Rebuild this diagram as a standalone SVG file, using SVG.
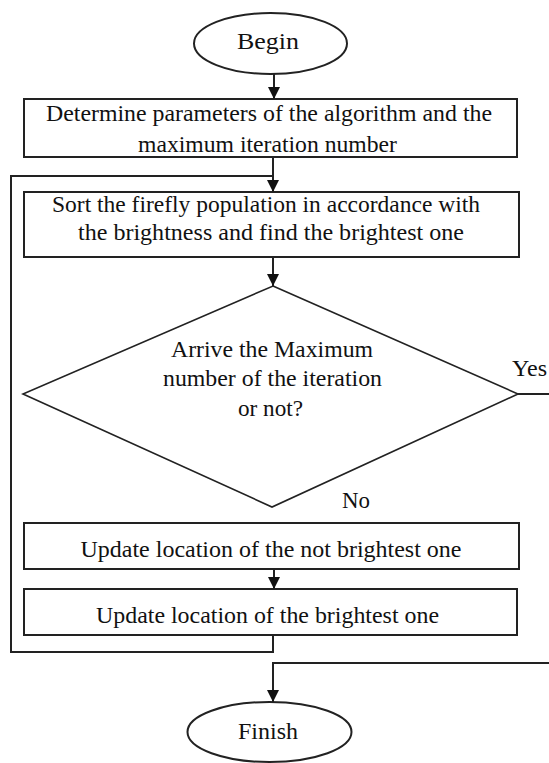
<svg xmlns="http://www.w3.org/2000/svg" width="549" height="763" viewBox="0 0 549 763">
<style>
.shape{fill:#fff;stroke:#222;stroke-width:2}
.dia{fill:#fff;stroke:#222;stroke-width:1.6}
.conn{fill:none;stroke:#222;stroke-width:2}
text{font-family:"Liberation Serif","Times New Roman",serif;font-size:24px;fill:#111;text-anchor:middle}
</style>
<defs>
<marker id="arr" viewBox="0 0 12 12" refX="12" refY="6" markerWidth="12" markerHeight="12" markerUnits="userSpaceOnUse" orient="auto">
<path d="M0,0 L12,6 L0,12 Z" fill="#111"/>
</marker>
</defs>
<rect width="549" height="763" fill="#fff"/>
<g id="begin">
<ellipse class="shape" cx="270.5" cy="43.5" rx="76.5" ry="30.5"/>
<text x="268" y="49" textLength="62" lengthAdjust="spacingAndGlyphs">Begin</text>
</g>
<g id="determine">
<rect class="shape" x="24" y="99" width="493" height="58"/>
<text x="269" y="121" textLength="446" lengthAdjust="spacingAndGlyphs">Determine parameters of the algorithm and the</text>
<text x="267.5" y="152" textLength="259" lengthAdjust="spacingAndGlyphs">maximum iteration number</text>
</g>
<g id="sort">
<rect class="shape" x="24" y="192" width="495" height="65"/>
<text x="266" y="212" textLength="428" lengthAdjust="spacingAndGlyphs">Sort the firefly population in accordance with</text>
<text x="271" y="240" textLength="386" lengthAdjust="spacingAndGlyphs">the brightness and find the brightest one</text>
</g>
<g id="decision">
<polygon class="dia" points="273,286 518,394 272,507 23,394"/>
<text x="272" y="357" textLength="202" lengthAdjust="spacingAndGlyphs">Arrive the Maximum</text>
<text x="272.5" y="386" textLength="219" lengthAdjust="spacingAndGlyphs">number of the iteration</text>
<text x="270.5" y="416" textLength="65" lengthAdjust="spacingAndGlyphs">or not?</text>
</g>
<g id="update-not-brightest">
<rect class="shape" x="24" y="523" width="495" height="46"/>
<text x="271" y="557" textLength="381" lengthAdjust="spacingAndGlyphs">Update location of the not brightest one</text>
</g>
<g id="update-brightest">
<rect class="shape" x="24" y="589" width="493" height="46"/>
<text x="267.5" y="623" textLength="343" lengthAdjust="spacingAndGlyphs">Update location of the brightest one</text>
</g>
<g id="finish">
<ellipse class="shape" cx="269.5" cy="732" rx="82" ry="30"/>
<text x="268" y="739" textLength="60" lengthAdjust="spacingAndGlyphs">Finish</text>
</g>
<g id="connectors">
<path class="conn" d="M274,74 V99" marker-end="url(#arr)"/>
<path class="conn" d="M273,157 V192" marker-end="url(#arr)"/>
<path class="conn" d="M273,635 V652 H11 V176 H273"/>
<path class="conn" d="M273,257 V286" marker-end="url(#arr)"/>
<path class="conn" d="M274,569 V589" marker-end="url(#arr)"/>
<path class="conn" d="M518,394 H549"/>
<path class="conn" d="M549,663 H273 V702" marker-end="url(#arr)"/>
<text x="529.5" y="376" textLength="35" lengthAdjust="spacingAndGlyphs">Yes</text>
<text x="356" y="508" textLength="28" lengthAdjust="spacingAndGlyphs">No</text>
</g>
</svg>
